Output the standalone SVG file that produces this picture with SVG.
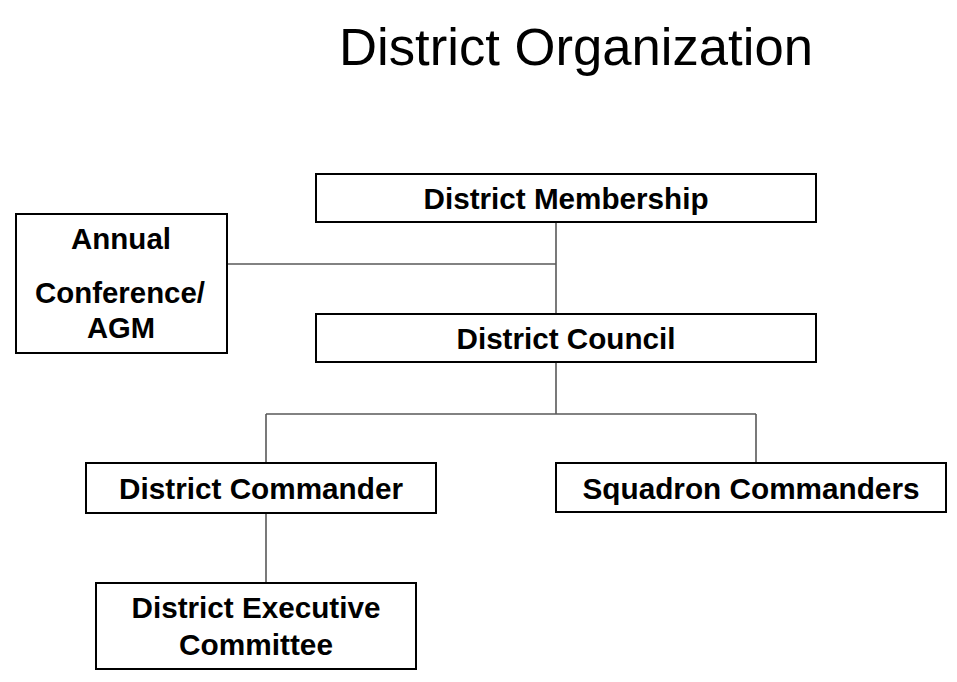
<svg xmlns="http://www.w3.org/2000/svg" width="957" height="682" viewBox="0 0 957 682">
<style>
.box{fill:#fff;stroke:#000;stroke-width:2}
.lbl{font-family:"Liberation Sans",Arial,sans-serif;font-weight:bold;font-size:29.5px;fill:#000;text-anchor:middle}
.title{font-family:"Liberation Sans",Arial,sans-serif;font-size:51px;fill:#000;text-anchor:middle}
.conn{fill:none;stroke:#595959;stroke-width:1.6}
</style>
<rect width="957" height="682" fill="#fff"/>
<text class="title" x="576" y="65" textLength="474" lengthAdjust="spacingAndGlyphs">District Organization</text>
<g id="connectors">
<path class="conn" d="M227 264H556M556 222V314M556 362V414M266 414H756M266 414V463M756 414V463M266 513V583"/>
</g>
<g id="membership">
<rect class="box" x="316" y="174" width="500" height="48"/>
<text class="lbl" x="566" y="209" textLength="285" lengthAdjust="spacingAndGlyphs">District Membership</text>
</g>
<g id="annual">
<rect class="box" x="16" y="214" width="211" height="139"/>
<text class="lbl" x="121" y="249" textLength="100" lengthAdjust="spacingAndGlyphs">Annual</text>
<text class="lbl" x="120" y="303" textLength="170" lengthAdjust="spacingAndGlyphs">Conference/</text>
<text class="lbl" x="121" y="338" textLength="68" lengthAdjust="spacingAndGlyphs">AGM</text>
</g>
<g id="council">
<rect class="box" x="316" y="314" width="500" height="48"/>
<text class="lbl" x="566" y="349" textLength="219" lengthAdjust="spacingAndGlyphs">District Council</text>
</g>
<g id="commander">
<rect class="box" x="86" y="463" width="350" height="50"/>
<text class="lbl" x="261" y="499" textLength="284" lengthAdjust="spacingAndGlyphs">District Commander</text>
</g>
<g id="squadron">
<rect class="box" x="556" y="463" width="390" height="49"/>
<text class="lbl" x="751" y="499" textLength="337" lengthAdjust="spacingAndGlyphs">Squadron Commanders</text>
</g>
<g id="executive">
<rect class="box" x="96" y="583" width="320" height="86"/>
<text class="lbl" x="256" y="618" textLength="249" lengthAdjust="spacingAndGlyphs">District Executive</text>
<text class="lbl" x="256" y="655" textLength="154" lengthAdjust="spacingAndGlyphs">Committee</text>
</g>
</svg>
